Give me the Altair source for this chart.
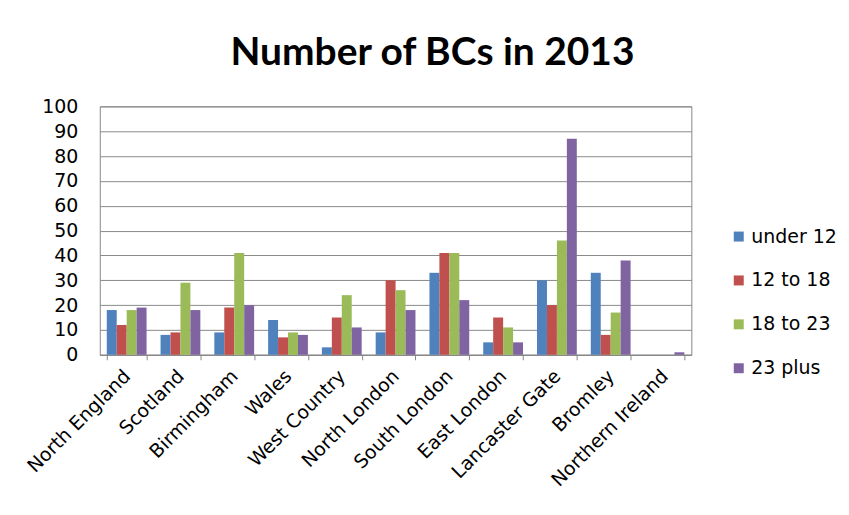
import altair as alt
import pandas as pd

regions = ["North England", "Scotland", "Birmingham", "Wales", "West Country",
           "North London", "South London", "East London", "Lancaster Gate",
           "Bromley", "Northern Ireland"]
series = ["under 12", "12 to 18", "18 to 23", "23 plus"]
under_12 = [18, 8, 9, 14, 3, 9, 33, 5, 30, 33, 0]
from_12_to_18 = [12, 9, 19, 7, 15, 30, 41, 15, 20, 8, 0]
from_18_to_23 = [18, 29, 41, 9, 24, 26, 41, 11, 46, 17, 0]
plus_23 = [19, 18, 20, 8, 11, 18, 22, 5, 87, 38, 1]
colors = ["#4F81BD", "#C0504D", "#9BBB59", "#8064A2"]

rows = []
for name, vals in zip(series, [under_12, from_12_to_18, from_18_to_23, plus_23]):
    for r, v in zip(regions, vals):
        rows.append({"region": r, "group": name, "value": v})
df = pd.DataFrame(rows)

FONT = "DejaVu Sans"

chart = alt.Chart(df).mark_bar().encode(
    x=alt.X("region:N", sort=regions, title=None,
            scale=alt.Scale(paddingInner=0.26, paddingOuter=0.13),
            axis=alt.Axis(labelAngle=-45, labelAlign="right", labelBaseline="middle",
                          labelFontSize=19, labelFont=FONT, labelColor="#000",
                          labelPadding=13, domainColor="#888", tickColor="#888",
                          ticks=True, tickBand="extent", tickSize=5, grid=False)),
    xOffset=alt.XOffset("group:N", sort=series),
    y=alt.Y("value:Q", title=None,
            scale=alt.Scale(domain=[0, 100], nice=False),
            axis=alt.Axis(values=list(range(0, 101, 10)), labelFontSize=19,
                          labelFont=FONT, labelColor="#000", labelPadding=22,
                          ticks=False, domain=False, gridColor="#8a8a8a",
                          gridWidth=1)),
    color=alt.Color("group:N", sort=series, title=None,
                    scale=alt.Scale(domain=series, range=colors),
                    legend=alt.Legend(orient="none", legendX=631, legendY=121,
                                      symbolType="square", symbolSize=100,
                                      symbolStrokeWidth=0, labelFontSize=19,
                                      labelFont=FONT, labelColor="#000",
                                      rowPadding=24, labelOffset=3)),
).properties(
    width=593, height=249,
    title=alt.TitleParams("Number of BCs in 2013", fontSize=39, font="Lato",
                          fontWeight="bold", color="#000", anchor="middle",
                          dx=37, offset=24),
    autosize=alt.AutoSizeParams(type="none"),
    padding={"left": 92, "top": 98, "right": 150, "bottom": 155},
).configure_view(stroke="#888", strokeWidth=1)

chart.save("out.html", embed_options={"renderer": "svg", "actions": False})
